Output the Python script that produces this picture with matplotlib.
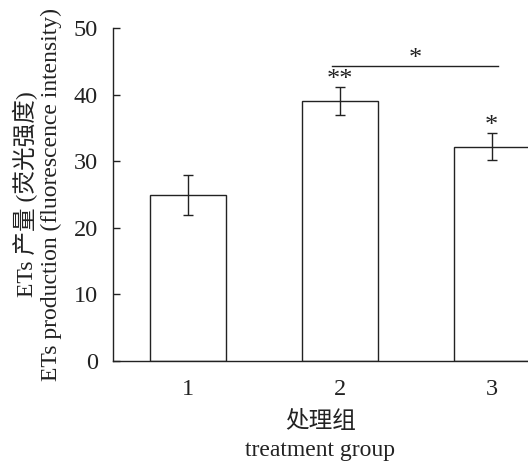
import matplotlib.pyplot as plt

plt.rcParams['font.family'] = ['Liberation Serif', 'Noto Sans CJK SC']
plt.rcParams['axes.unicode_minus'] = False

# ---- Data ----
groups = [1, 2, 3]
values = [25.0, 39.1, 32.2]
errors = [3.0, 2.1, 2.05]
marks = ['', '**', '*']
tick_labels = ['1', '2', '3']

fig = plt.figure(figsize=(5.28, 4.62), dpi=100)
ax = fig.add_axes([0.214, 0.2186, 0.786, 0.7204])

ax.bar(groups, values, width=0.5, color='white', edgecolor='#222222',
       linewidth=1.0, zorder=2)
ax.errorbar(groups, values, yerr=errors, fmt='none', ecolor='#222222',
            elinewidth=1.0, capsize=3.5, capthick=1.0, zorder=3)

# significance stars above each bar
for g, v, e, m in zip(groups, values, errors, marks):
    if m:
        ax.text(g, v + e - 0.6, m, ha='center', va='bottom', fontsize=19,
                color='#222222')

# bracket between group 2 and 3
ax.plot([1.95, 3.04], [44.3, 44.3], color='#222222', linewidth=1.0)
ax.text(2.495, 43.7, '*', ha='center', va='bottom', fontsize=19, color='#222222')

ax.set_xlim(0.507, 3.24)
ax.set_ylim(0, 50)
ax.set_yticks([0, 10, 20, 30, 40, 50])
ax.set_xticks(groups)
ax.set_xticklabels(tick_labels)

for s in ['top', 'right']:
    ax.spines[s].set_visible(False)
for s in ['left', 'bottom']:
    ax.spines[s].set_linewidth(1.0)
    ax.spines[s].set_color('#222222')

ax.tick_params(axis='y', direction='in', length=5, width=1.0, pad=11,
               labelsize=17.5, colors='#222222')
ax.tick_params(axis='x', length=0, pad=13, labelsize=17.5, colors='#222222')

ax.set_ylabel('ETs 产量 (荧光强度)\nETs production (fluorescence intensity)',
              fontsize=17, linespacing=1.2, labelpad=8, color='#222222')
ax.set_xlabel('处理组\ntreatment group', fontsize=17, linespacing=1.45,
              labelpad=8, color='#222222')

fig.savefig('out.png', dpi=100, facecolor='white')
